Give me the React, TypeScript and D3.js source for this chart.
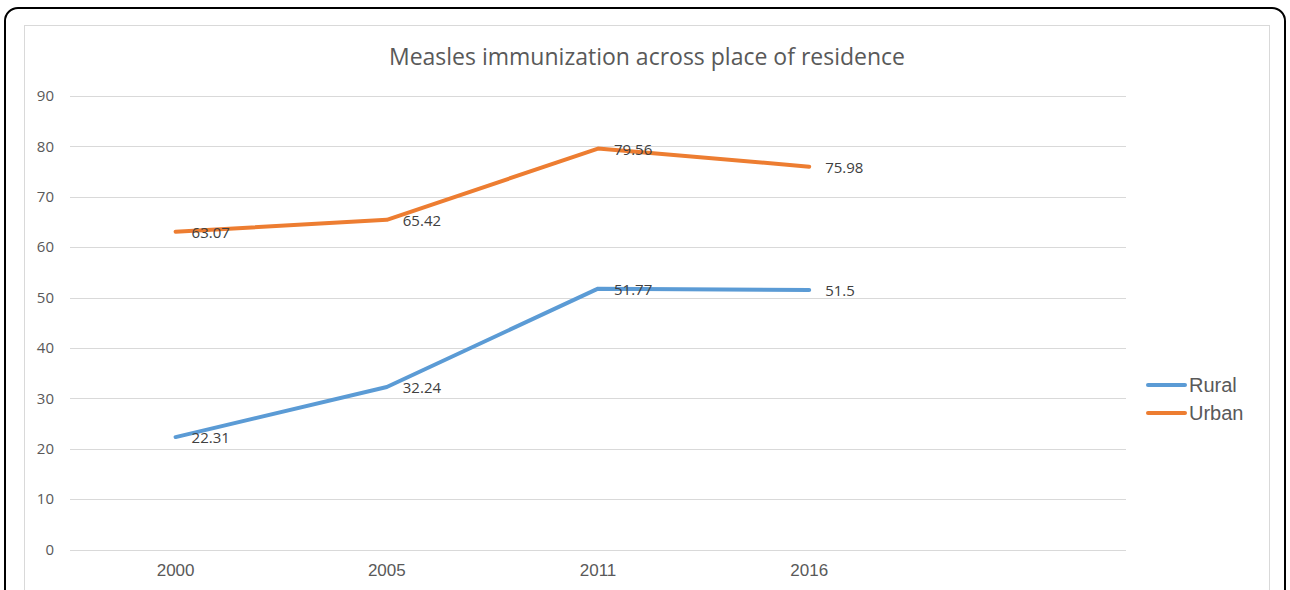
import React from "react";
import * as d3 from "d3";

const categories = ["2000", "2005", "2011", "2016", ""];
const years = ["2000", "2005", "2011", "2016"];
const rural = [22.31, 32.24, 51.77, 51.5];
const urban = [63.07, 65.42, 79.56, 75.98];
const yTicks = [0, 10, 20, 30, 40, 50, 60, 70, 80, 90];
const seriesNames = ["Rural", "Urban"];
const seriesColors = ["#5B9BD5", "#ED7D31"];

export default function App() {
  const W = 1290, H = 590;
  const x = d3.scaleBand<string>().domain(categories).range([70, 1126]);
  const y = d3.scaleLinear().domain([0, 90]).range([549.5, 96]);
  const line = d3
    .line<number>()
    .x((_, i) => (x(years[i]) as number) + x.bandwidth() / 2)
    .y((d) => y(d));
  const series = [rural, urban];
  return (
    <svg
      width={W}
      height={H}
      style={{ position: "absolute", left: 0, top: 0, display: "block", background: "#fff" }}
    >
      <rect x={5} y={8} width={1280} height={700} rx={13} fill="#fff" stroke="#000" strokeWidth={2} />
      <rect x={24.5} y={25.5} width={1245} height={700} fill="#fff" stroke="#d9d9d9" strokeWidth={1} />
      <text
        x={647}
        y={65}
        textAnchor="middle"
        fontFamily="Open Sans, sans-serif"
        fontSize={23}
        fill="#595959"
      >
        Measles immunization across place of residence
      </text>
      {yTicks.map((t) => (
        <g key={t}>
          <line x1={70} x2={1126} y1={Math.round(y(t)) + 0.5} y2={Math.round(y(t)) + 0.5} stroke="#d9d9d9" strokeWidth={1} />
          <text
            x={54}
            y={y(t)}
            dy="0.35em"
            textAnchor="end"
            fontFamily="Open Sans, sans-serif"
            fontSize={15}
            fill="#595959"
          >
            {t}
          </text>
        </g>
      ))}
      {years.map((c) => (
        <text
          key={c}
          x={(x(c) as number) + x.bandwidth() / 2}
          y={570}
          dy="0.35em"
          textAnchor="middle"
          fontFamily="Liberation Sans, Arial, sans-serif"
          fontSize={17}
          fill="#595959"
        >
          {c}
        </text>
      ))}
      {series.map((s, si) => (
        <g key={si}>
          <path
            d={line(s) as string}
            fill="none"
            stroke={seriesColors[si]}
            strokeWidth={4}
            strokeLinecap="round"
            strokeLinejoin="round"
          />
          {s.map((v, i) => (
            <text
              key={i}
              x={(x(years[i]) as number) + x.bandwidth() / 2 + 16}
              y={y(v) + 1}
              dy="0.35em"
              fontFamily="Open Sans, sans-serif"
              fontSize={15}
              fill="#404040"
            >
              {String(v)}
            </text>
          ))}
        </g>
      ))}
      {seriesNames.map((n, i) => (
        <g key={n}>
          <line
            x1={1148}
            x2={1185}
            y1={385 + i * 28}
            y2={385 + i * 28}
            stroke={seriesColors[i]}
            strokeWidth={4}
            strokeLinecap="round"
          />
          <text
            x={1189}
            y={385 + i * 28}
            dy="0.35em"
            fontFamily="Liberation Sans, Arial, sans-serif"
            fontSize={20}
            fill="#595959"
          >
            {n}
          </text>
        </g>
      ))}
    </svg>
  );
}
